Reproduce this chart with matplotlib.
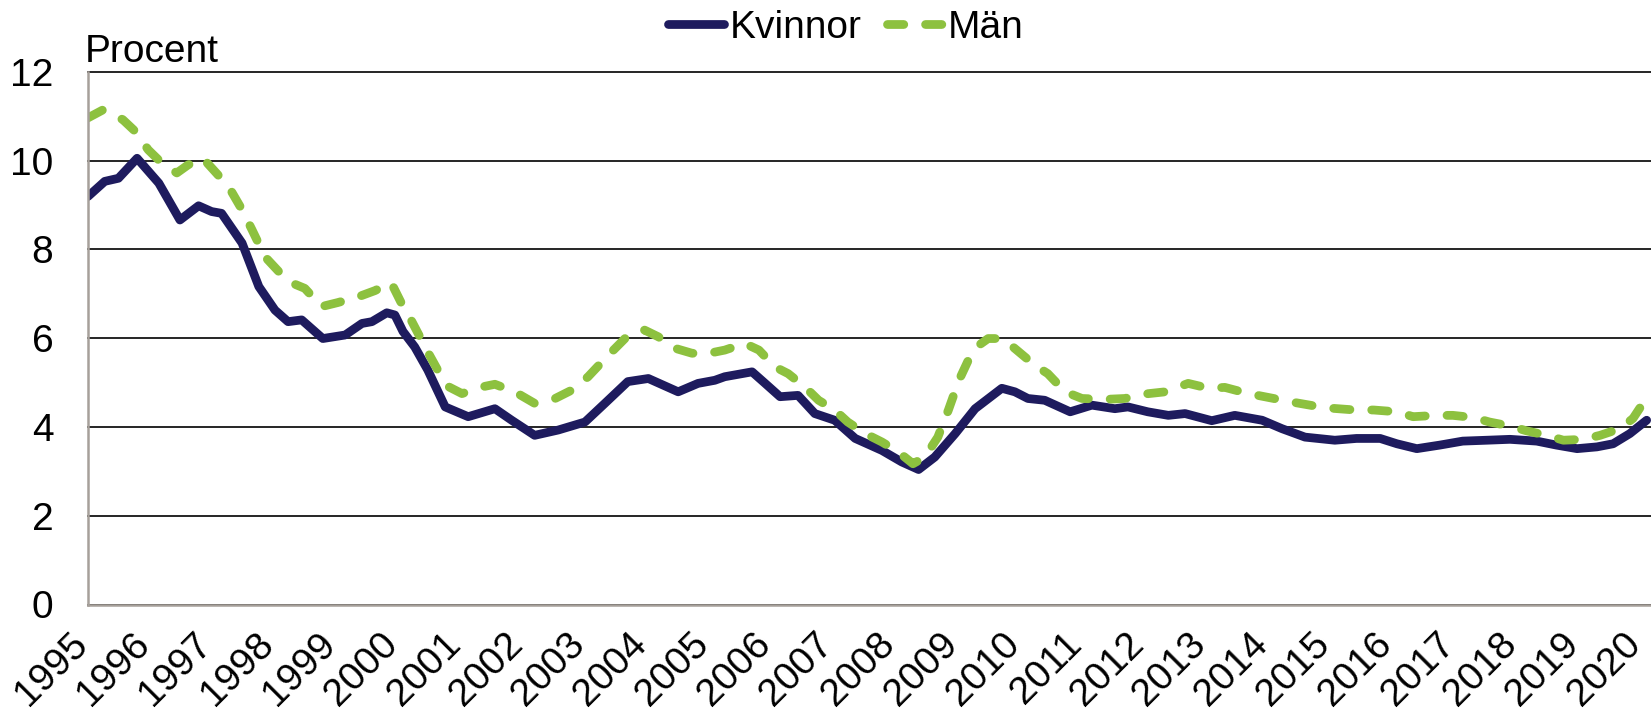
import matplotlib
matplotlib.use("Agg")
import matplotlib.pyplot as plt
from matplotlib.transforms import ScaledTranslation

# ================= DATA =================
kvinnor_year = [
    1995.00, 1995.27, 1995.49, 1995.79, 1996.14, 1996.48, 1996.78, 1996.99,
    1997.15, 1997.48, 1997.75, 1998.01, 1998.22, 1998.44, 1998.78, 1999.14,
    1999.41, 1999.57, 1999.81, 1999.94, 2000.07, 2000.26, 2000.47, 2000.75,
    2001.12, 2001.55, 2001.82, 2002.19, 2002.57, 2003.00, 2003.32, 2003.69,
    2004.02, 2004.50, 2004.82, 2005.09, 2005.25, 2005.69, 2005.90, 2006.14,
    2006.43, 2006.70, 2007.02, 2007.35, 2007.78, 2008.10, 2008.37, 2008.63,
    2008.96, 2009.28, 2009.71, 2009.92, 2010.13, 2010.40, 2010.81, 2011.16,
    2011.53, 2011.74, 2012.06, 2012.39, 2012.66, 2013.09, 2013.46, 2013.90,
    2014.22, 2014.59, 2015.07, 2015.42, 2015.80, 2016.07, 2016.39, 2016.76,
    2017.13, 2017.52, 2017.89, 2018.32, 2018.64, 2018.97, 2019.29, 2019.55,
    2019.82, 2020.09,
]
kvinnor_val = [
    9.19, 9.53, 9.60, 10.05, 9.49, 8.66, 8.98, 8.85,
    8.81, 8.14, 7.16, 6.63, 6.37, 6.41, 5.99, 6.07,
    6.33, 6.37, 6.57, 6.52, 6.15, 5.80, 5.28, 4.45,
    4.23, 4.41, 4.15, 3.81, 3.93, 4.11, 4.53, 5.02,
    5.09, 4.79, 4.98, 5.05, 5.13, 5.24, 4.98, 4.68,
    4.71, 4.30, 4.15, 3.74, 3.47, 3.21, 3.04, 3.32,
    3.85, 4.41, 4.87, 4.79, 4.64, 4.60, 4.34, 4.49,
    4.41, 4.45, 4.34, 4.26, 4.30, 4.14, 4.26, 4.15,
    3.96, 3.77, 3.70, 3.74, 3.74, 3.62, 3.51, 3.59,
    3.68, 3.70, 3.72, 3.68, 3.59, 3.51, 3.55, 3.62,
    3.85, 4.15,
]

man_year = [
    1995.00, 1995.24, 1995.56, 1995.75, 1995.97, 1996.19, 1996.43, 1996.61,
    1996.85, 1997.09, 1997.31, 1997.48, 1997.64, 1997.85, 1998.07, 1998.30,
    1998.49, 1998.76, 1999.02, 1999.35, 1999.62, 1999.88, 2000.04, 2000.20,
    2000.48, 2000.63, 2000.81, 2001.02, 2001.34, 2001.55, 2001.87, 2002.19,
    2002.52, 2002.79, 2003.05, 2003.38, 2003.70, 2003.96, 2004.18, 2004.45,
    2004.72, 2004.93, 2005.25, 2005.57, 2005.80, 2006.06, 2006.27, 2006.54,
    2006.76, 2007.02, 2007.23, 2007.51, 2007.78, 2008.04, 2008.28, 2008.47,
    2008.68, 2008.85, 2009.02, 2009.17, 2009.34, 2009.49, 2009.71, 2009.89,
    2010.24, 2010.45, 2010.73, 2011.00, 2011.37, 2011.69, 2012.01, 2012.34,
    2012.71, 2013.04, 2013.30, 2013.68, 2013.94, 2014.38, 2014.75, 2015.02,
    2015.31, 2015.70, 2016.07, 2016.33, 2016.71, 2016.97, 2017.31, 2017.56,
    2017.89, 2018.16, 2018.48, 2018.75, 2019.07, 2019.34, 2019.66, 2019.87,
    2020.03, 2020.14,
]
man_val = [
    10.96, 11.14, 10.92, 10.67, 10.24, 9.94, 9.72, 9.90,
    10.05, 9.68, 9.30, 8.89, 8.44, 7.83, 7.50, 7.23,
    7.12, 6.71, 6.80, 6.93, 7.07, 7.25, 6.80, 6.41,
    5.66, 5.28, 4.90, 4.75, 4.90, 4.96, 4.79, 4.53,
    4.64, 4.83, 5.13, 5.62, 6.07, 6.18, 6.03, 5.77,
    5.66, 5.64, 5.73, 5.88, 5.73, 5.35, 5.20, 4.90,
    4.60, 4.38, 4.11, 3.85, 3.66, 3.44, 3.17, 3.32,
    3.77, 4.38, 5.05, 5.50, 5.84, 5.99, 5.99, 5.80,
    5.39, 5.20, 4.79, 4.64, 4.62, 4.64, 4.74, 4.79,
    4.98, 4.87, 4.89, 4.75, 4.68, 4.56, 4.47, 4.42,
    4.39, 4.38, 4.34, 4.23, 4.26, 4.26, 4.21, 4.11,
    4.02, 3.91, 3.81, 3.70, 3.72, 3.81, 3.96, 4.19,
    4.53, 4.83,
]

tick_years = list(range(1995, 2021))
y_ticks = [0, 2, 4, 6, 8, 10, 12]
# ================================================================

KV_COLOR = "#1E1B5E"
MAN_COLOR = "#8DC13F"
AXIS_COLOR = "#A6A09A"
FS = 28
LW = 6.3

plt.rcParams["font.family"] = ["Liberation Sans", "DejaVu Sans"]

W, H = 1651, 716
fig = plt.figure(figsize=(W / 100, H / 100), dpi=100)
left, right, top, bottom = 88, 1651, 71.7, 604.5
ax = fig.add_axes([left / W, 1 - bottom / H, (right - left) / W, (bottom - top) / H])

ax.plot(kvinnor_year, kvinnor_val, color=KV_COLOR, lw=LW,
        solid_capstyle="round", solid_joinstyle="round", label="Kvinnor")
ax.plot(man_year, man_val, color=MAN_COLOR, lw=LW, linestyle=(0, (1.86, 2.49)),
        dash_capstyle="round", dash_joinstyle="round", label="Män")

# the series run a little past the January 2020 label
ax.set_xlim(1995, 2020.16)
ax.set_ylim(0, 12)
ax.set_yticks(y_ticks)
ax.set_xticks(tick_years)
ax.set_xticklabels([str(y) for y in tick_years])

ax.yaxis.grid(True, color="black", lw=1.2)
for gl in ax.yaxis.get_gridlines():
    gl.set_clip_on(False)
ax.set_axisbelow(True)
for s in ["top", "right"]:
    ax.spines[s].set_visible(False)
for s in ["left", "bottom"]:
    ax.spines[s].set_color(AXIS_COLOR)
    ax.spines[s].set_linewidth(1.8)

ax.tick_params(axis="y", length=0, pad=25, labelsize=FS)
ax.tick_params(axis="x", length=0, pad=0, labelsize=FS)

offset = ScaledTranslation(-6 / 100, -34 / 100, fig.dpi_scale_trans)
for lbl in ax.get_xticklabels():
    lbl.set_rotation(45)
    lbl.set_ha("right")
    lbl.set_va("center")
    lbl.set_rotation_mode("anchor")
    lbl.set_transform(lbl.get_transform() + offset)

fig.text(85 / W, 1 - 62 / H, "Procent", ha="left", va="baseline", fontsize=FS)

fig.legend(loc="center", bbox_to_anchor=(846 / W, 1 - 28 / H), ncol=2, frameon=False,
           fontsize=FS, handlelength=1.42, handletextpad=0.15, columnspacing=0.65,
           borderpad=0, borderaxespad=0)

fig.savefig("out.png", dpi=100)
